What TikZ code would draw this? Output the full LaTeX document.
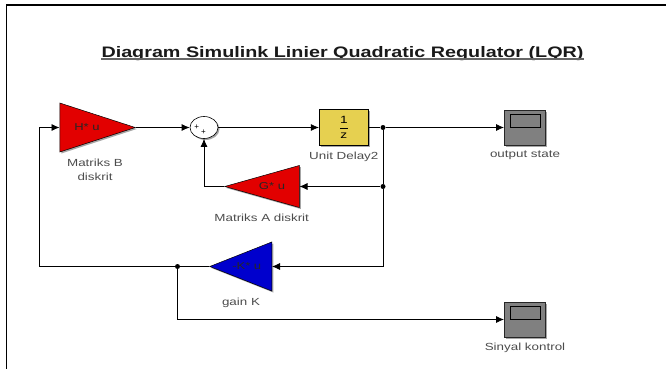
\documentclass[tikz,border=0pt]{standalone}
\usepackage{fontspec}
\setmainfont{Liberation Sans}
\newfontfamily\widefont[FakeStretch=1.3]{Liberation Sans}
\usetikzlibrary{arrows.meta,shapes,shadows,positioning}
\definecolor{delayfill}{RGB}{230,208,80}
\definecolor{gainred}{RGB}{226,0,0}
\definecolor{gainblue}{RGB}{0,0,205}
\tikzstyle{blockshadow} = [drop shadow={shadow xshift=1.5pt,shadow yshift=-1.5pt,opacity=.35,fill=black}]
\tikzstyle{gain} = [draw=black,line width=.5pt,isosceles triangle,isosceles triangle stretches,inner sep=0pt,blockshadow]
\tikzstyle{gaintext} = [inner sep=0pt,text=black!85,font=\widefont\fontsize{10}{12}\selectfont]
\tikzstyle{scopebox} = [draw=black!85,line width=1pt,fill=black!50,minimum width=41pt,minimum height=35pt,inner sep=0pt,blockshadow]
\tikzstyle{screen} = [draw=black,line width=.9pt,fill=black!50,minimum width=30pt,minimum height=12.5pt,inner sep=0pt]
\tikzstyle{tag} = [text=black!70,font=\widefont\fontsize{10.3}{14}\selectfont,align=center,inner sep=0pt]
\tikzstyle{wire} = [->,>={Latex[length=8pt,width=7pt]},line width=.8pt]
\tikzstyle{line} = [line width=.8pt]
\tikzstyle{dot} = [circle,fill=black,inner sep=0pt,minimum size=5pt]
\begin{document}
\begin{tikzpicture}[x=1pt,y=-1pt]
	\useasboundingbox (0,0) rectangle (666,369);
	\coordinate (frameA) at (6.5,369);
	\coordinate (frameB) at (6.5,5);
	\coordinate (frameC) at (666,5);
	\draw[line width=1.3pt] (frameA) -- (frameB) -- (frameC);

	\node (title) at (342.5,57.5) [anchor=base,font=\widefont\bfseries\fontsize{15.2}{18}\selectfont,inner sep=0pt,text=black!90] {Diagram Simulink Linier Quadratic Regulator (LQR)};
	\draw[line width=1.4pt,black!60] ([yshift=-1.6pt]title.base west) -- ([yshift=-1.6pt]title.base east);

	\node (matB) at (59.5,127.5) [gain,anchor=lower side,fill=gainred,minimum width=49pt,minimum height=75.5pt] {};
	\node (matA) at (299.5,186.5) [gain,anchor=lower side,shape border rotate=180,fill=gainred,minimum width=42pt,minimum height=74.5pt] {};
	\node (gainK) at (272,266.5) [gain,anchor=lower side,shape border rotate=180,fill=gainblue,minimum width=49pt,minimum height=62pt] {};
	\node (textB) at (87,127.5) [gaintext] {H* u};
	\node (textA) at (272,186.5) [gaintext] {G* u};
	\node (textK) at (246.7,266.5) [gaintext] {-K* u};

	\node (sum) at (204,127.5) [draw=black,line width=.6pt,ellipse,fill=white,minimum width=28pt,minimum height=22pt,inner sep=0pt,blockshadow] {};
	\node (plusA) at (196.7,127.5) [font=\fontsize{8}{8}\selectfont,inner sep=0pt] {+};
	\node (plusB) at (203.5,132.5) [font=\fontsize{8}{8}\selectfont,inner sep=0pt] {+};

	\node (delay) at (343.8,127.5) [draw=black,line width=.7pt,fill=delayfill,minimum width=49pt,minimum height=36.5pt,inner sep=0pt,blockshadow,font=\widefont\fontsize{10.5}{12}\selectfont] {$\displaystyle\frac{\hbox{1}}{\hbox{z}}$};

	\node (outScope) at (525,127.5) [scopebox] {};
	\node (outScreen) at (525.5,121) [screen] {};
	\node (ctrlScope) at (525,319.5) [scopebox] {};
	\node (ctrlScreen) at (525.5,313) [screen] {};

	\node (dotA) at (383,127.5) [dot] {};
	\node (dotB) at (383,186.5) [dot] {};
	\node (dotK) at (177.5,266.5) [dot] {};
	\coordinate (cornerA) at (383,266.5);
	\coordinate (cornerB) at (204,186.5);
	\coordinate (cornerC) at (39.5,266.5);
	\coordinate (cornerD) at (39.5,127.5);
	\coordinate (cornerE) at (177.5,319.5);

	\draw[wire] (matB.apex) -- (sum.west);
	\draw[wire] (sum.east) -- (delay.west);
	\draw[line] (delay.east) -- (dotA);
	\draw[wire] (dotA) -- (outScope.west);
	\draw[line] (dotA) -- (dotB);
	\draw[wire] (dotB) -- (matA.lower side);
	\draw[wire] (matA.apex) -- (cornerB) -- (sum.south);
	\draw[line] (dotB) -- (cornerA);
	\draw[wire] (cornerA) -- (gainK.lower side);
	\draw[line] (gainK.apex) -- (dotK);
	\draw[wire] (dotK) -- (cornerC) -- (cornerD) -- (matB.lower side);
	\draw[wire] (dotK) -- (cornerE) -- (ctrlScope.west);

	\node (tagB) [tag] at (95,170) {Matriks B\\diskrit};
	\node (tagDelay) [tag,below=6pt of delay] {Unit Delay2};
	\node (tagA) [tag] at (261.7,218) {Matriks A diskrit};
	\node (tagK) [tag] at (241,302.5) {gain K};
	\node (tagOut) [tag,below=5pt of outScope] {output state};
	\node (tagCtrl) [tag,below=5pt of ctrlScope] {Sinyal kontrol};
\end{tikzpicture}
\end{document}
